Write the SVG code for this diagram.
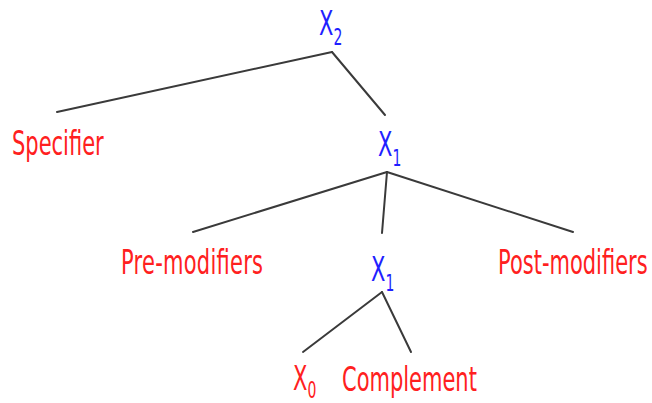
<svg xmlns="http://www.w3.org/2000/svg" width="652" height="403" viewBox="0 0 652 403">
  <style>
    text { font-family: "DejaVu Sans", "Liberation Sans", sans-serif; font-size: 21px; }
    .cat { fill: #1f1fff; }
    .word { fill: #ff2020; }
    .sub { font-size: 14px; }
    .edge { stroke: #3a3a3a; stroke-width: 2; fill: none; stroke-linecap: round; }
  </style>
  <rect width="652" height="403" fill="#ffffff"/>

  <g id="connectors">
    <line class="edge" x1="332" y1="52" x2="57" y2="112"/>
    <line class="edge" x1="332" y1="52" x2="385" y2="115"/>
    <line class="edge" x1="387" y1="172" x2="193" y2="232"/>
    <line class="edge" x1="387" y1="172" x2="382" y2="233"/>
    <line class="edge" x1="387" y1="172" x2="573" y2="232"/>
    <line class="edge" x1="382" y1="292" x2="303" y2="352"/>
    <line class="edge" x1="382" y1="292" x2="411" y2="352"/>
  </g>

  <g id="x2">
    <text class="cat" transform="translate(319,35) scale(1,1.6)">X<tspan class="sub" dy="6">2</tspan></text>
  </g>
  <g id="specifier">
    <text class="word" transform="translate(12,155) scale(1,1.6)">Specifier</text>
  </g>
  <g id="x1-upper">
    <text class="cat" transform="translate(378,156) scale(1,1.6)">X<tspan class="sub" dy="6">1</tspan></text>
  </g>
  <g id="pre-modifiers">
    <text class="word" transform="translate(121,274) scale(1,1.6)" textLength="142">Pre-modifiers</text>
  </g>
  <g id="x1-lower">
    <text class="cat" transform="translate(371,281) scale(1,1.6)">X<tspan class="sub" dy="6">1</tspan></text>
  </g>
  <g id="post-modifiers">
    <text class="word" transform="translate(498,274) scale(1,1.6)">Post-modifiers</text>
  </g>
  <g id="x0">
    <text class="word" transform="translate(293,390) scale(1,1.6)">X<tspan class="sub" dy="5">0</tspan></text>
  </g>
  <g id="complement">
    <text class="word" transform="translate(342,391) scale(1,1.6)">Complement</text>
  </g>
</svg>
